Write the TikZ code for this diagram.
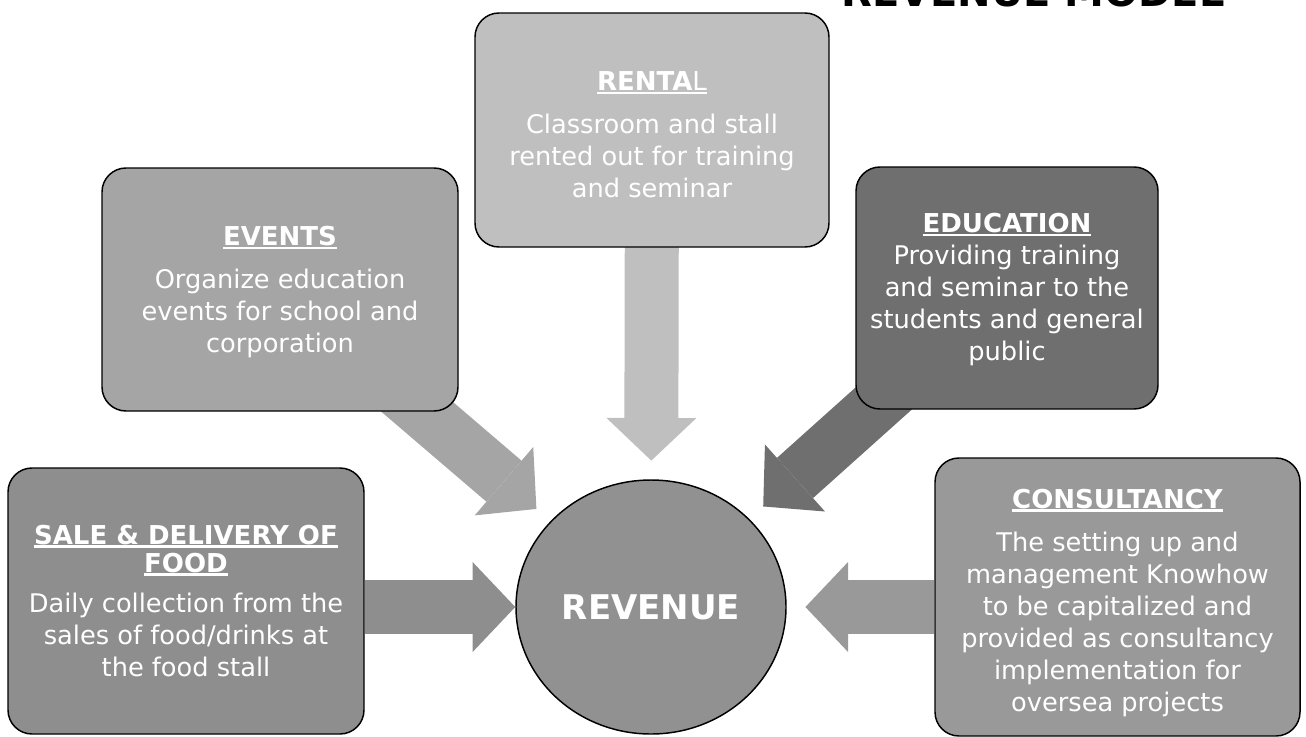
\documentclass[tikz,border=0pt]{standalone}
\usepackage{fontspec}
\setmainfont{DejaVu Sans}
\usetikzlibrary{arrows.meta,shapes.geometric}
\pgfdeclarelayer{bg}
\pgfsetlayers{bg,main}
\newsavebox\ulb
\newcommand\ulbox[1]{\sbox\ulb{#1}\rlap{\rule[-2.6pt]{\wd\ulb}{1.9pt}}\usebox\ulb}
\newcommand\hd{\fontsize{19.5pt}{24pt}\selectfont\bfseries}
\definecolor{cRent}{HTML}{BFBFBF}
\definecolor{cEvt}{HTML}{A5A5A5}
\definecolor{cEdu}{HTML}{6F6F6F}
\definecolor{cCons}{HTML}{999999}
\definecolor{cSale}{HTML}{8E8E8E}
\definecolor{cRev}{HTML}{919191}
\begin{document}
\begin{tikzpicture}[x=0.75pt,y=-0.75pt,
  box/.style={draw=black,line width=1.1pt,rounded corners=18pt,inner sep=0pt},
  txt/.style={text=white,align=center,inner sep=0pt,font=\fontsize{19.25pt}{24pt}\selectfont},
  flow/.style={line width=40.5pt,-{Triangle[width=67.5pt 0,length=32pt 0,line width=0pt]}}]
\useasboundingbox (0,0) rectangle (1306,736);

\node[box,fill=cRent,minimum width=265.5pt,minimum height=175.5pt] (rental) at (652,130) {};
\node[txt] (rentalT) at ([yshift=-3.75pt]rental.center)
  {\ulbox{\hd RENTA\mdseries L}\\[8.25pt]Classroom and stall\\rented out for training\\and seminar};
\node[box,fill=cEvt,minimum width=267pt,minimum height=182.25pt] (events) at (280,289.5) {};
\node[txt] (eventsT) at ([yshift=-2.25pt]events.center)
  {\ulbox{\hd EVENTS}\\[8.25pt]Organize education\\events for school and\\corporation};
\node[box,fill=cEdu,minimum width=226.5pt,minimum height=181.5pt] (education) at (1007,288) {};
\node[txt] (educationT) at ([yshift=-1.5pt]education.center)
  {\ulbox{\hd EDUCATION}\\Providing training\\and seminar to the\\students and general\\public};
\node[box,fill=cCons,minimum width=273.75pt,minimum height=208.5pt] (consultancy) at (1117.5,597) {};
\node[txt] (consultancyT) at ([yshift=-4.5pt]consultancy.center)
  {\ulbox{\hd CONSULTANCY}\\[8.25pt]The setting up and\\management Knowhow\\to be capitalized and\\provided as consultancy\\implementation for\\oversea projects};
\node[box,fill=cSale,minimum width=267pt,minimum height=199.5pt] (sale) at (186,601) {};
\node[txt] (saleT) at (sale.center)
  {\ulbox{\hd SALE \& DELIVERY OF}\\[-3pt]\ulbox{\hd FOOD}\\[6pt]Daily collection from the\\sales of food/drinks at\\the food stall};
\node[ellipse,draw=black,line width=1.1pt,fill=cRev,minimum width=202.5pt,minimum height=190.5pt,inner sep=0pt,
  text=white,font=\fontsize{25.5pt}{30pt}\selectfont\bfseries] (rev) at (651,607) {REVENUE};
\node[anchor=base,font=\fontsize{30pt}{36pt}\selectfont\bfseries,inner sep=0pt] (title) at (1033,6) {REVENUE MODEL};

\begin{pgfonlayer}{bg}
\draw[flow,cRent,shorten >=14pt] (rental.center) -- (rev);
\draw[flow,cEvt,shorten >=14pt] (events.center) -- (rev);
\draw[flow,cEdu,shorten >=14pt] (education.center) -- (rev);
\draw[flow,cCons,shorten >=14pt] (consultancy.west |- rev.center) -- (rev);
\draw[flow,cSale] (sale.east |- rev.center) -- (rev);
\end{pgfonlayer}
\end{tikzpicture}
\end{document}
